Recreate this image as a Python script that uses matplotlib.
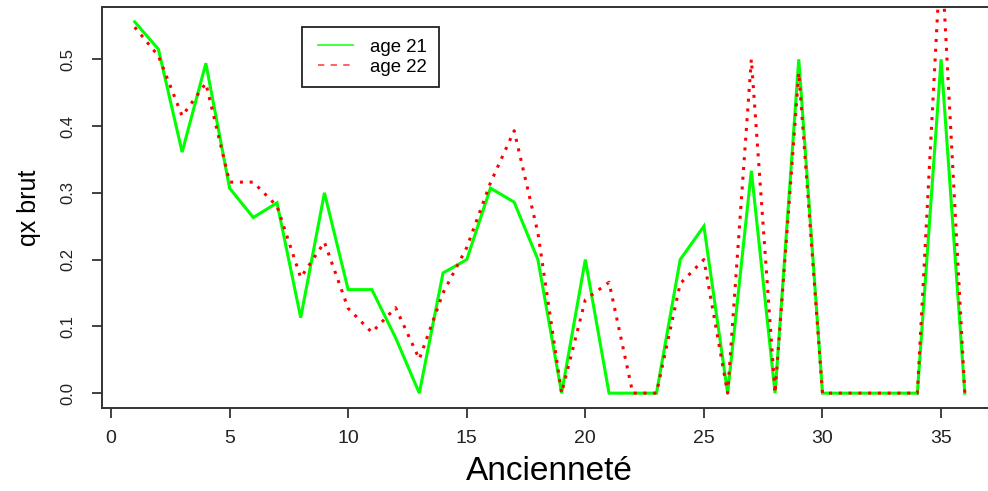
import matplotlib
matplotlib.use("Agg")
import matplotlib.pyplot as plt
from matplotlib.lines import Line2D
from matplotlib.legend_handler import HandlerBase

plt.rcParams['font.family'] = ['Liberation Sans', 'DejaVu Sans']

anciennete = list(range(1, 37))
age21 = [0.556, 0.515, 0.361, 0.494, 0.307, 0.263, 0.285, 0.113, 0.300, 0.155,
         0.155, 0.083, 0.0, 0.180, 0.200, 0.307, 0.286, 0.200, 0.0, 0.200,
         0.0, 0.0, 0.0, 0.200, 0.250, 0.0, 0.333, 0.0, 0.500, 0.0,
         0.0, 0.0, 0.0, 0.0, 0.500, 0.0]
age22 = [0.548, 0.505, 0.415, 0.464, 0.316, 0.316, 0.280, 0.173, 0.226, 0.127,
         0.091, 0.128, 0.051, 0.150, 0.218, 0.315, 0.393, 0.240, 0.0, 0.140,
         0.166, 0.0, 0.0, 0.164, 0.200, 0.0, 0.500, 0.0, 0.480, 0.0,
         0.0, 0.0, 0.0, 0.0, 0.667, 0.0]
xticks = [0, 5, 10, 15, 20, 25, 30, 35]
yticks = [0.0, 0.1, 0.2, 0.3, 0.4, 0.5]
labels = ["age 21", "age 22"]


class OffsetLineHandler(HandlerBase):
    def create_artists(self, legend, orig_handle, xdescent, ydescent,
                       width, height, fontsize, trans):
        off = 0.11 * width
        y = height / 2 - ydescent
        line = Line2D([off - xdescent, width - xdescent], [y, y])
        line.update_from(orig_handle)
        line.set_transform(trans)
        return [line]


W, H = 988, 491
fig = plt.figure(figsize=(W / 100, H / 100), dpi=100)
left, right, top, bottom = 101.5, 998, 7, 408
ax = fig.add_axes([left / W, 1 - bottom / H, (right - left) / W, (bottom - top) / H])

ax.plot(anciennete, age21, color='#00ff00', lw=2.2, solid_joinstyle='miter')
ax.plot(anciennete, age22, color='#ff0000', lw=2.2, linestyle=(0, (1, 2.2)))

ax.set_xlim(-0.4, 37.4)
ymax = max(age21)
ax.set_ylim(-0.04 * ymax, ymax * 1.04)

ax.set_xticks(xticks)
ax.set_xticklabels([str(t) for t in xticks], fontsize=14, color='#222222')
ax.set_yticks(yticks)
ax.set_yticklabels([f"{t:.1f}" for t in yticks], fontsize=12, rotation=90,
                   va='center', color='#222222')
ax.tick_params(axis='x', length=7, width=1.3, color='#333333', pad=9)
ax.tick_params(axis='y', length=7, width=1.3, color='#333333', pad=12)
for s in ax.spines.values():
    s.set_color('#333333')
    s.set_linewidth(1.4)

ax.set_xlabel("Ancienneté", fontsize=24, labelpad=6)
ax.set_ylabel("qx brut", fontsize=18, labelpad=14)

handles = [Line2D([], [], color='#33ff33', lw=1.3),
           Line2D([], [], color='#ff5555', lw=1.3, linestyle=(0, (3.5, 3.5)))]
leg = fig.legend(handles, labels, loc='upper left',
                 bbox_to_anchor=(302 / W, 1 - 27 / H), fontsize=13.4,
                 frameon=True, fancybox=False, framealpha=1,
                 edgecolor='#222222', borderpad=0.63, labelspacing=0.15,
                 handlelength=2.13, handletextpad=0.9, borderaxespad=0,
                 handler_map={Line2D: OffsetLineHandler()})
leg.get_frame().set_linewidth(1.3)

fig.savefig("out.png", dpi=100)
